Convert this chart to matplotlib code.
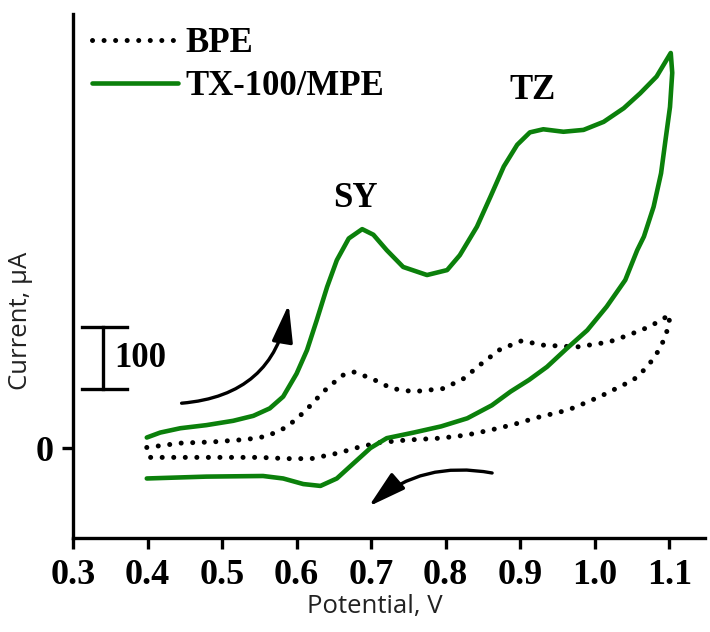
import matplotlib
matplotlib.use('Agg')
import matplotlib.pyplot as plt
from matplotlib.patches import FancyArrowPatch

# TX-100/MPE (green), forward then reverse scan  (V, uA)
mpe_fwd_v = [0.399, 0.417, 0.444, 0.479, 0.515, 0.542, 0.564, 0.582, 0.600, 0.614,
             0.627, 0.641, 0.654, 0.670, 0.688, 0.703, 0.721, 0.743, 0.775, 0.802,
             0.819, 0.842, 0.860, 0.878, 0.896, 0.913, 0.931, 0.958, 0.985, 1.012,
             1.039, 1.061, 1.083, 1.102]
mpe_fwd_i = [17, 25, 32, 37, 44, 52, 64, 83, 120, 158,
             206, 260, 303, 338, 353, 344, 319, 292, 279, 287,
             311, 357, 405, 454, 489, 509, 514, 510, 513, 526,
             548, 572, 599, 637]
mpe_rev_v = [1.104, 1.101, 1.095, 1.089, 1.079, 1.066, 1.057, 1.041, 1.016, 0.990,
             0.962, 0.936, 0.912, 0.887, 0.862, 0.829, 0.794, 0.757, 0.721, 0.699,
             0.676, 0.654, 0.632, 0.609, 0.582, 0.555, 0.479, 0.399]
mpe_rev_i = [605, 550, 497, 443, 389, 341, 319, 271, 228, 190,
             160, 131, 110, 91, 69, 48, 35, 25, 16, 0,
             -25, -49, -61, -58, -49, -45, -46, -49]

# BPE (dotted), forward then reverse scan
bpe_fwd_v = [0.399, 0.444, 0.488, 0.533, 0.560, 0.587, 0.611, 0.636, 0.661, 0.676,
             0.701, 0.728, 0.757, 0.797, 0.824, 0.849, 0.873, 0.902, 0.931, 0.976,
             1.019, 1.045, 1.074, 1.101]
bpe_fwd_i = [1, 8, 10, 14, 19, 34, 59, 91, 117, 123,
             112, 96, 91, 96, 112, 137, 159, 173, 166, 163,
             171, 182, 196, 215]
bpe_rev_v = [1.099, 1.093, 1.086, 1.078, 1.068, 1.052, 1.007, 0.972, 0.956, 0.922,
             0.891, 0.860, 0.828, 0.793, 0.748, 0.712, 0.685, 0.656, 0.620, 0.587,
             0.551, 0.479, 0.403]
bpe_rev_i = [196, 175, 158, 143, 128, 110, 83, 65, 59, 49,
             38, 29, 21, 16, 13, 9, 2, -8, -17, -17,
             -15, -15, -15]

x_ticks = [0.3, 0.4, 0.5, 0.6, 0.7, 0.8, 0.9, 1.0, 1.1]
x_ticklabels = ['0.3', '0.4', '0.5', '0.6', '0.7', '0.8', '0.9', '1.0', '1.1']
scale_bar = (95, 195)   # 100 uA

serif = 'Liberation Serif'
green = '#0b800b'

fig = plt.figure(figsize=(7.1, 6.32), dpi=100)
ax = fig.add_axes([0.1028, 0.1487, 0.8902, 0.8293])

ax.plot(bpe_fwd_v + bpe_rev_v, bpe_fwd_i + bpe_rev_i, color='k', lw=3.6,
        linestyle=(0, (0.01, 2.3)), dash_capstyle='round', label='BPE')
ax.plot(mpe_fwd_v + mpe_rev_v, mpe_fwd_i + mpe_rev_i, color=green, lw=3.3,
        solid_joinstyle='round', solid_capstyle='round', label='TX-100/MPE')

ax.set_xlim(0.3, 1.148)
ax.set_ylim(-145, 700)
ax.set_xticks(x_ticks)
ax.set_xticklabels(x_ticklabels)
ax.set_yticks([0])
ax.set_yticklabels(['0'])
for lab in ax.get_xticklabels() + ax.get_yticklabels():
    lab.set_fontfamily(serif)
    lab.set_fontweight('bold')
    lab.set_fontsize(26)
ax.tick_params(axis='x', length=8, width=2.4, pad=7)
ax.tick_params(axis='y', length=8, width=2.4, pad=6)

ax.spines['top'].set_visible(False)
ax.spines['right'].set_visible(False)
ax.spines['left'].set_linewidth(2.4)
ax.spines['bottom'].set_linewidth(2.4)

ax.set_xlabel('Potential, V', fontfamily='Open Sans', fontsize=18.5, color='#222222')
ax.set_ylabel('Current, µA', fontfamily='Open Sans', fontsize=18.5, color='#222222')
ax.xaxis.set_label_coords(0.478, -0.106)
ax.yaxis.set_label_coords(-0.063, 0.414)

# scale bar
ax.plot([0.340, 0.340], scale_bar, color='k', lw=2.4, clip_on=False)
ax.plot([0.312, 0.3725], [scale_bar[0]] * 2, color='k', lw=2.4, clip_on=False)
ax.plot([0.312, 0.3725], [scale_bar[1]] * 2, color='k', lw=2.4, clip_on=False)
ax.text(0.355, 145, '100', fontfamily=serif, fontweight='bold', fontsize=25,
        ha='left', va='center')

# peak labels
ax.text(0.679, 403, 'SY', fontfamily=serif, fontweight='bold', fontsize=25,
        ha='center', va='center')
ax.text(0.917, 577, 'TZ', fontfamily=serif, fontweight='bold', fontsize=25,
        ha='center', va='center')

# scan direction arrows
ax.add_patch(FancyArrowPatch((0.442, 72), (0.590, 236), connectionstyle='arc3,rad=0.4',
                             arrowstyle='-|>,head_length=1.15,head_width=0.32',
                             mutation_scale=20, lw=2.4, color='k'))
ax.add_patch(FancyArrowPatch((0.866, -41), (0.694, -97), connectionstyle='arc3,rad=0.25',
                             arrowstyle='-|>,head_length=1.15,head_width=0.32',
                             mutation_scale=20, lw=2.4, color='k'))

ax.legend(loc='upper left', bbox_to_anchor=(0.03, 0.975), frameon=False,
          prop={'family': serif, 'weight': 'bold', 'size': 25},
          handlelength=2.48, handletextpad=0.2, labelspacing=0.3,
          borderpad=0, borderaxespad=0)

plt.savefig('out.png', dpi=100, facecolor='white')
